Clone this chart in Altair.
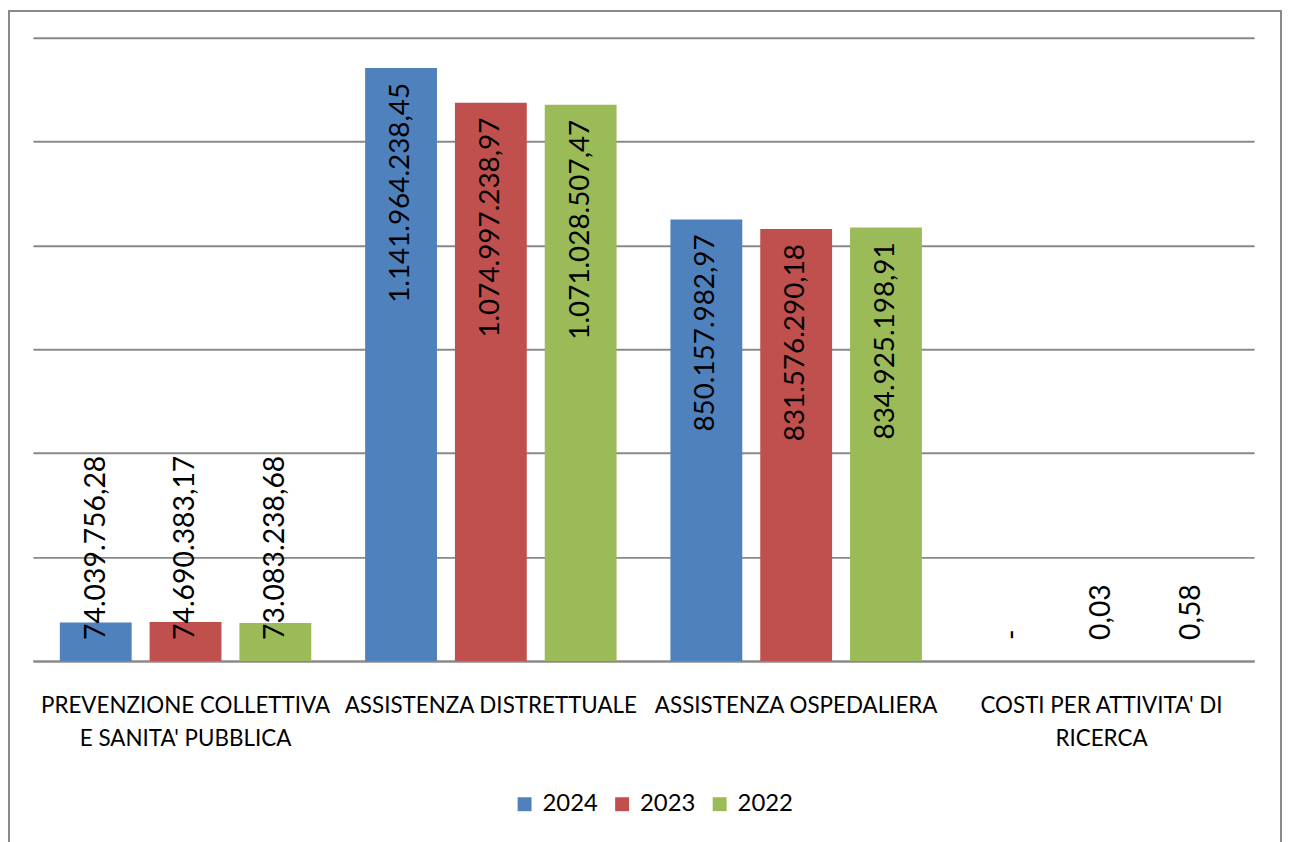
import altair as alt
import pandas as pd

categories = [
    "PREVENZIONE COLLETTIVA|E SANITA' PUBBLICA",
    "ASSISTENZA DISTRETTUALE",
    "ASSISTENZA OSPEDALIERA",
    "COSTI PER ATTIVITA' DI|RICERCA",
]
years = ["2024", "2023", "2022"]
values_2024 = [74039756.28, 1141964238.45, 850157982.97, 0.0]
values_2023 = [74690383.17, 1074997238.97, 831576290.18, 0.03]
values_2022 = [73083238.68, 1071028507.47, 834925198.91, 0.58]
colors = ["#4F81BD", "#C0504D", "#9BBB59"]
y_ticks = [0, 200000000, 400000000, 600000000, 800000000, 1000000000, 1200000000]


def it_fmt(v):
    if v == 0:
        return "-"
    s = f"{v:,.2f}"
    return s.replace(",", "X").replace(".", ",").replace("X", ".")


rows = []
for yr, vals in zip(years, [values_2024, values_2023, values_2022]):
    for c, v in zip(categories, vals):
        rows.append({"cat": c, "year": yr, "value": v, "label": it_fmt(v)})
df = pd.DataFrame(rows)

W, H = 1227, 626
FONT = "Lato"

x_enc = alt.X(
    "cat:N",
    sort=categories,
    scale=alt.Scale(paddingInner=0, paddingOuter=0),
    axis=alt.Axis(
        title=None,
        labelAngle=0,
        labelExpr="split(datum.value, '|')",
        labelFont=FONT,
        labelFontSize=22.5,
        labelColor="#000000",
        labelLineHeight=33,
        labelPadding=34,
        labelBaseline="top",
        labelLimit=0,
        ticks=False,
        domainColor="#898989",
        domainWidth=2,
        grid=False,
    ),
)
xo_enc = alt.XOffset(
    "year:N", sort=years, scale=alt.Scale(paddingInner=0.2, paddingOuter=0.3)
)
y_scale = alt.Scale(domain=[0, 1200000000], nice=False)

base = alt.Chart(df)

bars = base.mark_bar().encode(
    x=x_enc,
    xOffset=xo_enc,
    y=alt.Y(
        "value:Q",
        scale=y_scale,
        axis=alt.Axis(
            title=None,
            values=y_ticks,
            labels=False,
            ticks=False,
            domain=False,
            grid=True,
            gridColor="#898989",
            gridWidth=2,
        ),
    ),
    color=alt.Color(
        "year:N",
        sort=years,
        scale=alt.Scale(domain=years, range=colors),
        legend=alt.Legend(
            title=None,
            orient="none",
            legendX=482,
            legendY=758,
            direction="horizontal",
            symbolType="square",
            symbolSize=196,
            symbolStrokeWidth=0,
            labelFont=FONT,
            labelFontSize=24,
            labelColor="#000000",
            labelOffset=6,
            columnPadding=12,
            padding=0,
        ),
    ),
)

big_labels = (
    base.transform_filter("datum.value > 300000000")
    .mark_text(angle=270, align="right", baseline="middle", dx=-15,
               font=FONT, fontSize=28, color="#000000")
    .encode(x=alt.X("cat:N", sort=categories), xOffset=xo_enc,
            y=alt.Y("value:Q", scale=y_scale), text="label:N")
)

small_labels = (
    base.transform_filter("datum.value <= 300000000")
    .mark_text(angle=270, align="left", baseline="middle", dx=21,
               font=FONT, fontSize=28.5, color="#000000")
    .encode(x=alt.X("cat:N", sort=categories), xOffset=xo_enc,
            y=alt.datum(0, type="quantitative", scale=y_scale), text="label:N")
)

frame = (
    alt.Chart(pd.DataFrame({"f": [0]}))
    .mark_rect(fill=None, stroke="#898989", strokeWidth=2)
    .encode(x=alt.value(-24), x2=alt.value(1254), y=alt.value(-27), y2=alt.value(900))
)

chart = (
    alt.layer(frame, bars, big_labels, small_labels)
    .properties(
        width=W,
        height=H,
        autosize=alt.AutoSizeParams(type="none"),
        padding={"left": 25, "top": 28, "right": 29, "bottom": 180},
        background="#ffffff",
    )
    .configure_view(stroke=None)
)

chart.save("out.html", embed_options={"renderer": "svg", "actions": False})
